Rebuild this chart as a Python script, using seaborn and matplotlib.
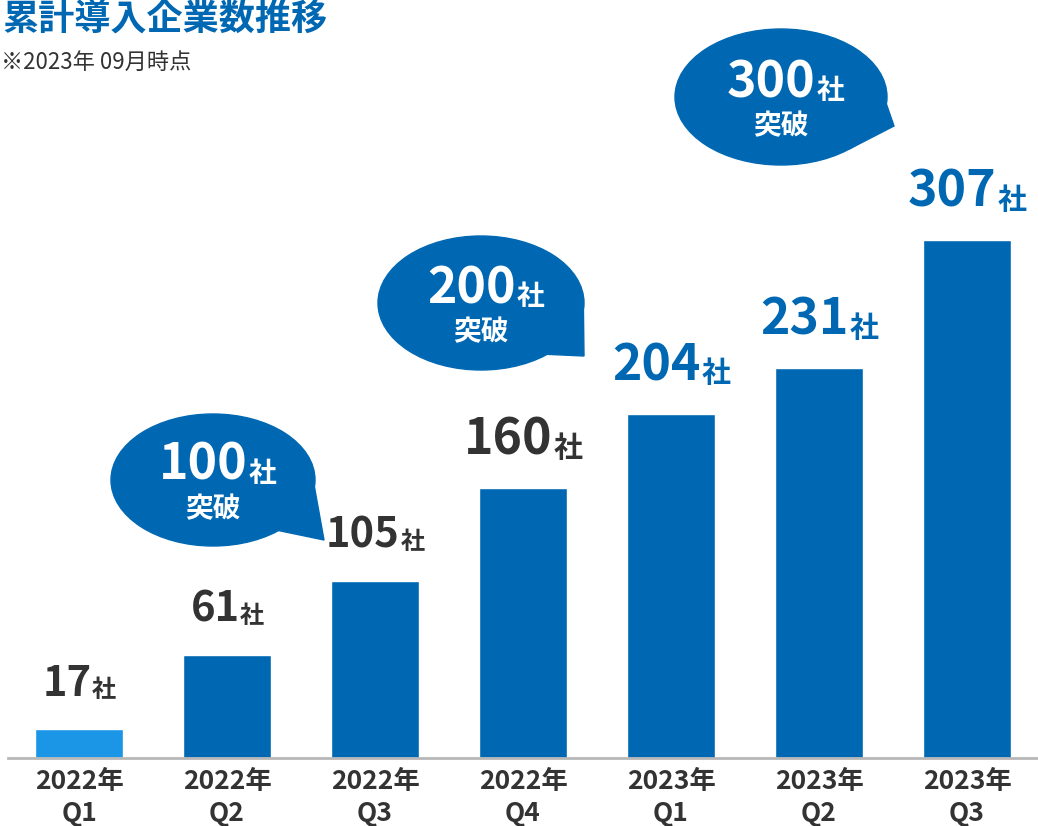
import matplotlib
matplotlib.use("Agg")
import matplotlib.pyplot as plt
from matplotlib.patches import Ellipse, Polygon
import numpy as np
import pandas as pd
import seaborn as sns

years = ["2022年", "2022年", "2022年", "2022年", "2023年", "2023年", "2023年"]
quarters = ["Q1", "Q2", "Q3", "Q4", "Q1", "Q2", "Q3"]
companies = [17, 61, 105, 160, 204, 231, 307]
milestones = [100, 200, 300]
title = "累計導入企業数推移"
note = "※2023年 09月時点"

BLUE = "#0068b3"
LIGHT = "#1b95e6"
DARK = "#333333"

sns.set_theme(style="white")
plt.rcParams["font.family"] = ["Noto Sans CJK JP", "DejaVu Sans"]

W, H = 1038, 826
fig = plt.figure(figsize=(W / 100, H / 100), dpi=100)
ax = fig.add_axes([8 / W, 68 / H, 1 - 8 / W, 1 - 68 / H])

df = pd.DataFrame({"label": [f"{y}\n{q}" for y, q in zip(years, quarters)],
                   "count": companies})
bar_colors = [LIGHT] + [BLUE] * (len(df) - 1)
sns.barplot(data=df, x="label", y="count", hue="label", palette=bar_colors,
            legend=False, width=0.59, saturation=1, ax=ax)

ax.set_xlim(-0.48, 6.48)
ax.set_ylim(0, 449)
ax.set_xlabel("")
ax.set_ylabel("")
ax.set_yticks([])
for s in ["left", "top", "right"]:
    ax.spines[s].set_visible(False)
ax.spines["bottom"].set_color("#b8b8b8")
ax.spines["bottom"].set_linewidth(2)
ax.tick_params(axis="x", length=0, pad=7, labelsize=19, labelcolor=DARK)
for lbl in ax.get_xticklabels():
    lbl.set_fontweight("bold")
    lbl.set_linespacing(1.25)

# value labels: number + smaller 社
for i, v in enumerate(companies):
    fs = 30 if i < 3 else 36
    c = BLUE if years[i] == "2023年" else DARK
    sfs = fs * 0.58
    num = ax.annotate(str(v), xy=(i, v), xytext=(-sfs / 2, 24),
                      textcoords="offset points", ha="center", va="baseline",
                      fontsize=fs, fontweight="bold", color=c, zorder=5)
    ax.annotate("社", xy=(1, 0), xycoords=num, xytext=(0.5, 2),
                textcoords="offset points", ha="left", va="bottom",
                fontsize=sfs, fontweight="bold", color=c, zorder=5)


def px(x, y):
    return x / W, 1 - y / H


def bubble(m, cx, cy, w, h, tip):
    e = Ellipse(px(cx, cy), w / W, h / H, transform=fig.transFigure,
                color=BLUE, clip_on=False, zorder=3)
    ax.add_artist(e)
    pts = []
    for ang in (-6, -50):
        t = np.deg2rad(ang)
        pts.append(px(cx + w / 2 * np.cos(t), cy - h / 2 * np.sin(t)))
    pts.append(px(*tip))
    ax.add_artist(Polygon(pts, closed=True, transform=fig.transFigure,
                          color=BLUE, clip_on=False, zorder=3))
    num = ax.annotate(str(m), xy=px(cx, cy), xycoords="figure fraction",
                      xytext=(-7, 0), textcoords="offset points",
                      ha="center", va="baseline", fontsize=36,
                      fontweight="bold", color="white", zorder=5,
                      annotation_clip=False)
    ax.annotate("社", xy=(1, 0), xycoords=num, xytext=(0.5, 2),
                textcoords="offset points", ha="left", va="bottom",
                fontsize=20, fontweight="bold", color="white", zorder=5,
                annotation_clip=False)
    ax.annotate("突破", xy=px(cx, cy + 29), xycoords="figure fraction",
                ha="center", va="center", fontsize=20, fontweight="bold",
                color="white", zorder=5, annotation_clip=False)


bubble(milestones[0], 213, 480, 204, 132, (324, 540))
bubble(milestones[1], 481, 303, 206, 134, (584, 356))
bubble(milestones[2], 781, 97, 212, 136, (894, 126))

fig.text(2 / W, 1 - 19 / H, title, fontsize=26, fontweight="bold",
         color=BLUE, ha="left", va="center")
fig.text(1 / W, 1 - 62 / H, note, fontsize=16, color=DARK,
         ha="left", va="center")

fig.savefig("out.png", dpi=100)
